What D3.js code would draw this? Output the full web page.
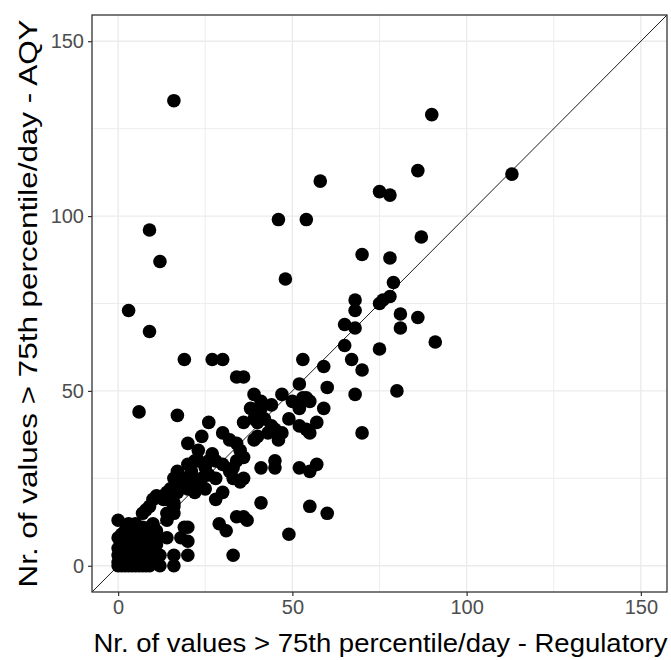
<!DOCTYPE html>
<html>
<head>
<meta charset="utf-8">
<script src="https://cdn.jsdelivr.net/npm/d3@7"></script>
<style>
  html, body { margin: 0; padding: 0; background: #ffffff; }
  svg { display: block; }
</style>
</head>
<body>
<svg id="chart" width="671" height="660"></svg>
<script>
// Daily counts of values above the 75th percentile: regulatory station vs AQY sensor
const regulatory = [
  16, 90, 113, 86, 75, 78, 58, 46, 54, 87, 9, 12, 70, 78, 48, 79, 3, 9,
  78, 75, 76, 68, 68, 81, 86, 81, 65, 68, 91, 65, 75, 19, 27, 30, 67, 53,
  59, 70, 34, 36, 52, 60, 80, 39, 47, 68, 54, 50, 53, 55, 41, 44, 38, 41,
  52, 59, 6, 17, 49, 57, 52, 54, 26, 36, 30, 24, 39, 40, 42, 44, 45, 47,
  46, 43, 40, 39, 70, 55, 20, 34, 32, 23, 35, 34, 36, 26, 23, 33, 25, 27,
  28, 30, 32, 41, 45, 45, 52, 55, 57, 28, 33, 26, 36, 35, 24, 21, 17, 23,
  25, 22, 28, 30, 41, 55, 60, 37, 29, 34, 36, 31, 49, 33, 0, 14, 20, 20,
  20, 12, 12, 16, 16, 18, 14, 11,
  22, 20, 17, 16, 15, 14, 13, 11, 9, 8, 7, 21, 19, 18, 20, 22, 17, 14,
  16, 14, 16, 13, 15, 16, 10, 19,
  0, 1, 2, 3, 4, 5, 6, 7, 8, 9,
  0, 1, 2, 3, 4, 5, 6, 8, 9,
  0, 1, 2, 3, 4, 5, 6, 7, 8, 9,
  0, 1, 2, 3, 4, 5, 6, 7, 8, 9,
  0, 1, 2, 3, 4, 5, 6, 7, 8, 9, 10, 5, 3,
  10, 10, 11, 11
];
const aqy = [
  133, 129, 112, 113, 107, 106, 110, 99, 99, 94, 96, 87, 89, 88, 82, 81, 73, 67,
  77, 75, 76, 76, 73, 72, 71, 68, 69, 68, 64, 63, 62, 59, 59, 59, 59, 59,
  57, 56, 54, 54, 52, 51, 50, 49, 49, 49, 48, 47, 48, 47, 47, 46, 45, 45,
  45, 45, 44, 43, 42, 41, 40, 39, 41, 41, 38, 37, 42, 41, 42, 40, 39, 38,
  36, 38, 37, 36, 38, 38, 35, 35, 36, 33, 33, 30, 31, 30, 30, 28, 28, 32,
  30, 29, 27, 28, 30, 28, 28, 27, 29, 25, 25, 26, 25, 24, 25, 27, 26, 23,
  22, 21, 19, 21, 18, 17, 15, 13, 12, 14, 14, 10, 9, 3, 13, 13, 11, 7,
  3, 3, 0, 3, 0, 8, 8, 8,
  30, 29, 27, 25, 22, 21, 19, 20, 17, 16, 15, 26, 25, 23, 22, 24, 21, 19,
  17, 15, 15, 20, 20, 18, 19, 11,
  0, 0, 0, 0, 0, 0, 0, 0, 0, 0,
  1, 2, 1, 2, 1, 2, 1, 2, 1,
  3, 4, 3, 5, 3, 4, 3, 4, 3, 5,
  5, 6, 7, 6, 7, 6, 8, 6, 7, 7,
  8, 9, 10, 9, 10, 9, 10, 11, 10, 11, 12, 12, 12,
  8, 4, 6, 10
];
const tickValues = [0, 50, 100, 150];
const minorTickValues = [25, 75, 125];
const xTitle = "Nr. of values > 75th percentile/day - Regulatory";
const yTitle = "Nr. of values > 75th percentile/day - AQY";

const points = regulatory.map((r, i) => ({ x: r, y: aqy[i] }));

const svg = d3.select("#chart");
const panel = { left: 92, right: 667, top: 15, bottom: 592 };
const domain = [-7.5, 157.5];

const x = d3.scaleLinear().domain(domain).range([panel.left, panel.right]);
const y = d3.scaleLinear().domain(domain).range([panel.bottom, panel.top]);

svg.append("defs").append("clipPath").attr("id", "panel-clip")
  .append("rect")
  .attr("x", panel.left).attr("y", panel.top)
  .attr("width", panel.right - panel.left)
  .attr("height", panel.bottom - panel.top);

// Grid lines (minor then major)
const grid = svg.append("g");
grid.selectAll(".vminor").data(minorTickValues).join("line")
  .attr("x1", d => x(d)).attr("x2", d => x(d))
  .attr("y1", panel.top).attr("y2", panel.bottom)
  .attr("stroke", "#EBEBEB").attr("stroke-width", 0.9);
grid.selectAll(".hminor").data(minorTickValues).join("line")
  .attr("y1", d => y(d)).attr("y2", d => y(d))
  .attr("x1", panel.left).attr("x2", panel.right)
  .attr("stroke", "#EBEBEB").attr("stroke-width", 0.9);
grid.selectAll(".vmajor").data(tickValues).join("line")
  .attr("x1", d => x(d)).attr("x2", d => x(d))
  .attr("y1", panel.top).attr("y2", panel.bottom)
  .attr("stroke", "#EBEBEB").attr("stroke-width", 1.4);
grid.selectAll(".hmajor").data(tickValues).join("line")
  .attr("y1", d => y(d)).attr("y2", d => y(d))
  .attr("x1", panel.left).attr("x2", panel.right)
  .attr("stroke", "#EBEBEB").attr("stroke-width", 1.4);

// 1:1 reference line
svg.append("line")
  .attr("clip-path", "url(#panel-clip)")
  .attr("x1", x(domain[0])).attr("y1", y(domain[0]))
  .attr("x2", x(domain[1])).attr("y2", y(domain[1]))
  .attr("stroke", "#000").attr("stroke-width", 0.9);

// Points
svg.append("g").attr("clip-path", "url(#panel-clip)")
  .selectAll("circle").data(points).join("circle")
  .attr("cx", d => x(d.x)).attr("cy", d => y(d.y))
  .attr("r", 6.8).attr("fill", "#000");

// Panel border
svg.append("rect")
  .attr("x", panel.left).attr("y", panel.top)
  .attr("width", panel.right - panel.left)
  .attr("height", panel.bottom - panel.top)
  .attr("fill", "none").attr("stroke", "#333333").attr("stroke-width", 1.3);

// Axes
const fontFam = "'Liberation Sans', Arial, sans-serif";
const xAxis = svg.append("g").attr("transform", `translate(0,${panel.bottom})`)
  .call(d3.axisBottom(x).tickValues(tickValues).tickSize(4).tickPadding(4));
const yAxis = svg.append("g").attr("transform", `translate(${panel.left},0)`)
  .call(d3.axisLeft(y).tickValues(tickValues).tickSize(4).tickPadding(4));
[xAxis, yAxis].forEach(g => {
  g.select(".domain").remove();
  g.selectAll(".tick line").attr("stroke", "#333333").attr("stroke-width", 1.2);
  g.selectAll(".tick text").attr("fill", "#4D4D4D")
    .style("font-family", fontFam).style("font-size", "20px");
});

// Axis titles
svg.append("text")
  .attr("x", (panel.left + panel.right) / 2 + 1)
  .attr("y", 652)
  .attr("text-anchor", "middle")
  .attr("textLength", 574)
  .attr("lengthAdjust", "spacingAndGlyphs")
  .style("font-family", fontFam).style("font-size", "25px")
  .attr("fill", "#000")
  .text(xTitle);

svg.append("text")
  .attr("transform", `translate(37,${(panel.top + panel.bottom) / 2}) rotate(-90)`)
  .attr("text-anchor", "middle")
  .attr("textLength", 568)
  .attr("lengthAdjust", "spacingAndGlyphs")
  .style("font-family", fontFam).style("font-size", "25px")
  .attr("fill", "#000")
  .text(yTitle);
</script>
</body>
</html>
